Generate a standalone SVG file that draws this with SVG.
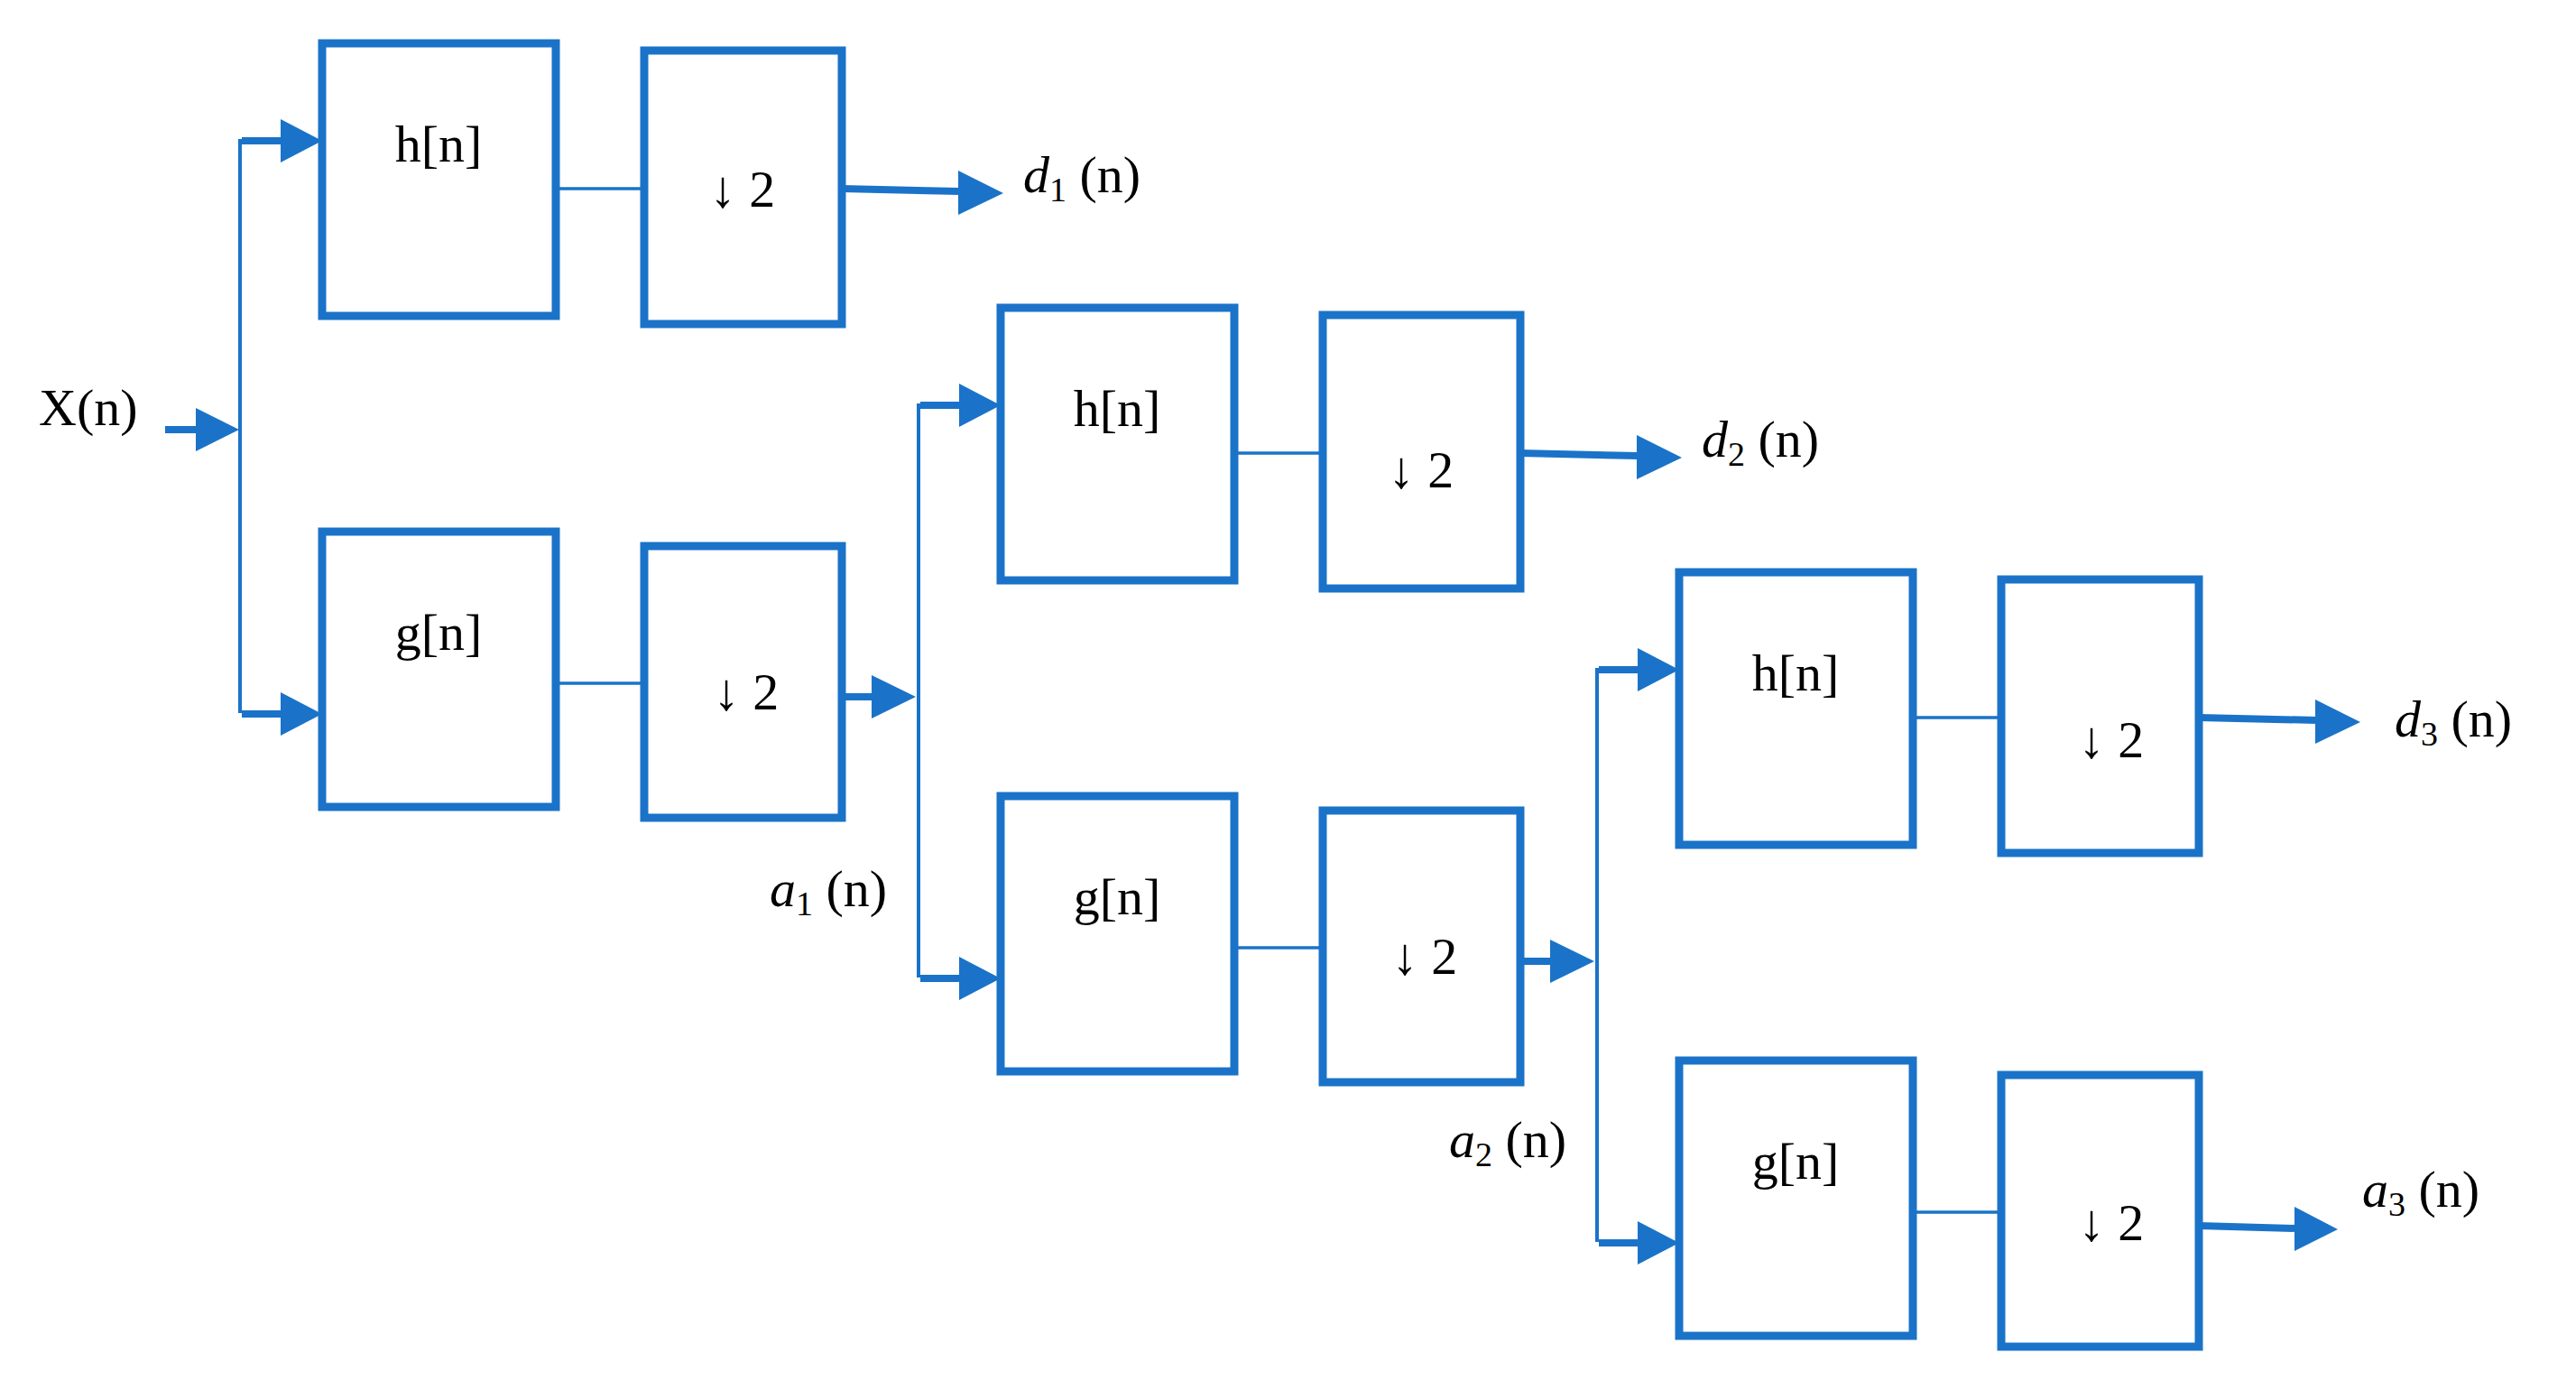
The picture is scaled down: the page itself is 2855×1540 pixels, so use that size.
<svg xmlns="http://www.w3.org/2000/svg" width="2855" height="1540" viewBox="0 0 2855 1540">
<style>
.box{fill:#fff;stroke:#1a73c8;stroke-width:9}
.t{font-family:"Liberation Serif",serif;font-size:58px;fill:#000}
.thin{stroke:#1a73c8;stroke-width:3.5;fill:none}
.bus{stroke:#1a73c8;stroke-width:4;fill:none}
.thick{stroke:#1a73c8;stroke-width:8;fill:none}
.head{fill:#1a73c8}
.i{font-style:italic}
</style>
<rect width="2855" height="1540" fill="#fff"/>
<defs>
<g id="stage">
<line class="bus" x1="266" y1="154" x2="266" y2="790"/>
<line class="thick" x1="268" y1="156" x2="312" y2="156"/>
<polygon class="head" points="311,132 357,156 311,180"/>
<line class="thick" x1="268" y1="791" x2="312" y2="791"/>
<polygon class="head" points="311,767 357,791 311,815"/>
<line class="thin" x1="616" y1="209" x2="714" y2="209"/>
<line class="thin" x1="616" y1="757" x2="714" y2="757"/>
<line class="thick" x1="933" y1="209" x2="1064" y2="212"/>
<polygon class="head" points="1062,189 1112,214 1062,238"/>
</g>
<g id="box1">
<rect class="box" x="357" y="48" width="259" height="302"/>
</g>
</defs>
<g id="connectors">
<line class="thick" x1="183" y1="476" x2="218" y2="476"/>
<polygon class="head" points="217,452 265,476 217,500"/>
<use href="#stage"/>
<line class="thick" x1="933" y1="772" x2="968" y2="772"/>
<polygon class="head" points="966,748 1015,772 966,796"/>
<use href="#stage" transform="translate(752,293)"/>
<line class="thick" x1="1685" y1="1065" x2="1720" y2="1065"/>
<polygon class="head" points="1718,1041 1767,1065 1718,1089"/>
<use href="#stage" transform="translate(1504,586)"/>
<line class="thick" x1="2437" y1="1358" x2="2545" y2="1361"/>
<polygon class="head" points="2543,1337 2591,1362 2543,1386"/>
</g>
<g id="h1"><rect class="box" x="357" y="48" width="259" height="302"/><text class="t" x="486" y="179" text-anchor="middle">h[n]</text></g>
<g id="d1box"><rect class="box" x="714" y="56" width="219" height="303"/><text class="t" x="823" y="229" text-anchor="middle">↓ 2</text></g>
<g id="g1"><rect class="box" x="357" y="589" width="259" height="305"/><text class="t" x="486" y="720" text-anchor="middle">g[n]</text></g>
<g id="a1box"><rect class="box" x="714" y="605" width="219" height="301"/><text class="t" x="827" y="786" text-anchor="middle">↓ 2</text></g>

<g id="h2"><rect class="box" x="1109" y="341" width="259" height="302"/><text class="t" x="1238" y="472" text-anchor="middle">h[n]</text></g>
<g id="d2box"><rect class="box" x="1466" y="349" width="219" height="303"/><text class="t" x="1575" y="540" text-anchor="middle">↓ 2</text></g>
<g id="g2"><rect class="box" x="1109" y="882" width="259" height="305"/><text class="t" x="1238" y="1013" text-anchor="middle">g[n]</text></g>
<g id="a2box"><rect class="box" x="1466" y="898" width="219" height="301"/><text class="t" x="1579" y="1079" text-anchor="middle">↓ 2</text></g>

<g id="h3"><rect class="box" x="1861" y="634" width="259" height="302"/><text class="t" x="1990" y="765" text-anchor="middle">h[n]</text></g>
<g id="d3box"><rect class="box" x="2218" y="642" width="219" height="303"/><text class="t" x="2340" y="839" text-anchor="middle">↓ 2</text></g>
<g id="g3"><rect class="box" x="1861" y="1175" width="259" height="305"/><text class="t" x="1990" y="1306" text-anchor="middle">g[n]</text></g>
<g id="a3box"><rect class="box" x="2218" y="1191" width="219" height="301"/><text class="t" x="2340" y="1374" text-anchor="middle">↓ 2</text></g>

<g id="labels">
<text class="t" x="43" y="471">X(n)</text>
<text class="t" x="1134" y="213"><tspan class="i">d</tspan><tspan font-size="38" dy="10">1</tspan><tspan dy="-10">  (n)</tspan></text>
<text class="t" x="1886" y="506"><tspan class="i">d</tspan><tspan font-size="38" dy="10">2</tspan><tspan dy="-10">  (n)</tspan></text>
<text class="t" x="2654" y="816"><tspan class="i">d</tspan><tspan font-size="38" dy="10">3</tspan><tspan dy="-10">  (n)</tspan></text>
<text class="t" x="853" y="1004"><tspan class="i">a</tspan><tspan font-size="38" dy="10">1</tspan><tspan dy="-10">  (n)</tspan></text>
<text class="t" x="1606" y="1282"><tspan class="i">a</tspan><tspan font-size="38" dy="10">2</tspan><tspan dy="-10">  (n)</tspan></text>
<text class="t" x="2618" y="1337"><tspan class="i">a</tspan><tspan font-size="38" dy="10">3</tspan><tspan dy="-10">  (n)</tspan></text>
</g>
</svg>
